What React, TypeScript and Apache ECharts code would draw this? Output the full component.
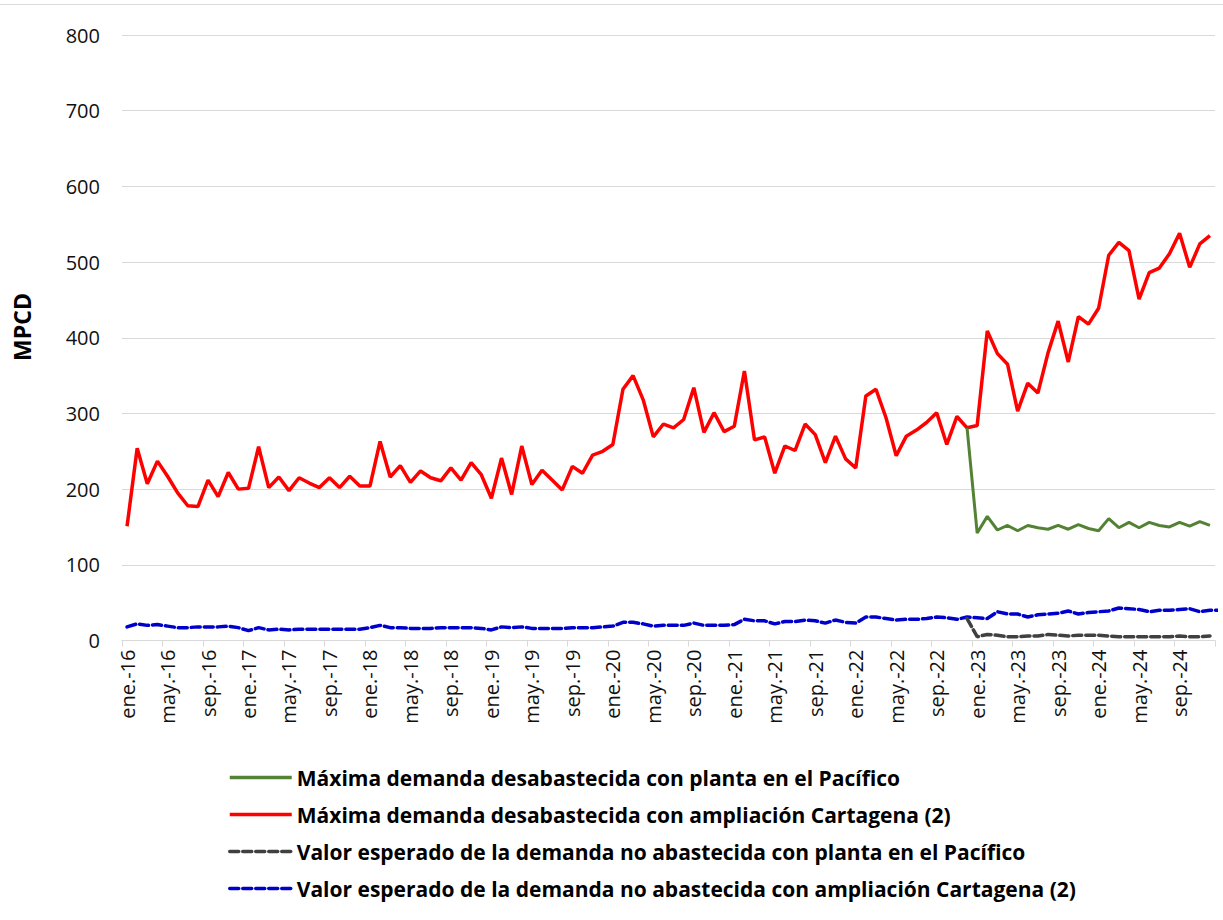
import React, { useEffect, useRef } from "react";
import * as echarts from "echarts";

const MONTHS = ["ene.", "feb.", "mar.", "abr.", "may.", "jun.", "jul.", "ago.", "sep.", "oct.", "nov.", "dic."];
const YEARS = ["16", "17", "18", "19", "20", "21", "22", "23", "24"];
const categories: string[] = [];
YEARS.forEach((y) => MONTHS.forEach((m) => categories.push(`${m}-${y}`)));

const NAME_GREEN = "Máxima demanda desabastecida con planta en el Pacífico";
const NAME_RED = "Máxima demanda desabastecida con ampliación Cartagena (2)";
const NAME_GRAY = "Valor esperado de la demanda no abastecida con planta en el Pacífico";
const NAME_BLUE = "Valor esperado de la demanda no abastecida con ampliación Cartagena (2)";

const redValues = [
  151, 254, 207, 237, 217, 195, 178, 177, 212, 190, 222, 200, 201, 256, 202, 216, 198, 215, 208, 202, 215, 202, 217, 204,
  204, 263, 216, 231, 209, 224, 215, 211, 228, 212, 235, 219,
  188, 241, 193, 257, 206, 225, 212, 199, 230, 221, 245, 250, 259, 332, 350, 318, 269, 286, 281, 292, 334, 275, 301, 276,
  283, 356, 265, 269, 221, 257, 251, 286, 272, 235, 270,
  240, 228, 323, 332, 294, 244, 270, 278, 288, 301, 259, 296, 281, 284, 409, 379, 365, 303, 340, 327, 380, 422, 368, 428,
  418, 439, 509, 526, 515, 451, 486, 492, 511, 538, 493, 524, 535,
];

const greenTail = [281, 142, 164, 146, 152, 145, 152, 149, 147, 152, 147, 153, 148, 145, 161, 149, 156, 149, 156, 152, 150, 156, 151, 157, 152];

const blueValues = [
  18, 22, 20, 21, 19, 17, 17, 18, 18, 18, 19, 17, 13, 17, 14, 15, 14, 15, 15, 15, 15, 15, 15, 15, 17, 20, 17,
  17, 16, 16, 16, 17, 17, 17, 17, 16, 14, 18, 17, 18, 16, 16, 16, 16, 17, 17, 17, 18, 19, 24, 24, 22, 19,
  20, 20, 20, 23, 20, 20, 20, 21, 28, 26, 26, 22, 25, 25, 27, 26, 23, 27, 24, 23, 31, 31, 29, 27, 28, 28, 29, 31, 30, 28, 31, 30, 29,
  38, 35, 35, 31, 34, 35, 36, 39, 35, 37, 38, 39, 43, 42, 41, 38, 40, 40, 41, 42, 38, 40, 40,
];

const grayTail = [29, 5, 8, 7, 5, 5, 6, 6, 8, 7, 6, 7, 7, 7, 6, 5, 5, 5, 5, 5, 5, 6, 5, 5, 6];

const padFront = (tail: number[]) => {
  const out: (number | null)[] = [];
  for (let i = 0; i < categories.length - tail.length; i++) out.push(null);
  return out.concat(tail);
};

const greenValues = padFront(greenTail);
const grayValues = padFront(grayTail);

const FONT = "'Open Sans', 'Noto Sans', sans-serif";

export default function App() {
  const ref = useRef<HTMLDivElement>(null);
  useEffect(() => {
    if (!ref.current) return;
    const chart = echarts.init(ref.current, undefined, { renderer: "svg" });
    chart.setOption({
      animation: false,
      backgroundColor: "#ffffff",
      textStyle: { fontFamily: FONT },
      graphic: [
        {
          type: "line",
          shape: { x1: 0, y1: 4.5, x2: 1223, y2: 4.5 },
          style: { stroke: "#d9d9d9", lineWidth: 1 },
        },
        {
          type: "text",
          x: 22,
          y: 327,
          rotation: Math.PI / 2,
          style: {
            text: "MPCD",
            align: "center",
            verticalAlign: "middle",
            fontFamily: FONT,
            fontSize: 23,
            fontWeight: "bold",
            fill: "#000",
          },
        },
      ],
      grid: { left: 122, right: 8, top: 35, bottom: 279.5, containLabel: false },
      legend: {
        orient: "vertical",
        left: 223,
        top: 762,
        padding: 5,
        itemWidth: 62,
        itemHeight: 21,
        itemGap: 16,
        itemStyle: { opacity: 0 },
        lineStyle: { width: 3.5 },
        data: [NAME_GREEN, NAME_RED, NAME_GRAY, NAME_BLUE],
        textStyle: { fontFamily: FONT, fontSize: 21, fontWeight: "bold", color: "#000" },
      },
      xAxis: {
        type: "category",
        data: categories,
        boundaryGap: true,
        axisLine: { show: true, lineStyle: { color: "#d9d9d9", width: 1 } },
        axisTick: { show: true, interval: 3, length: 6, lineStyle: { color: "#d9d9d9" } },
        axisLabel: {
          interval: 3,
          rotate: 90,
          margin: 9,
          fontSize: 20,
          color: "#111",
          fontFamily: FONT,
        },
        splitLine: { show: false },
      },
      yAxis: {
        type: "value",
        min: 0,
        max: 800,
        interval: 100,
        axisLine: { show: false },
        axisTick: { show: false },
        axisLabel: { fontSize: 20, color: "#111", margin: 22, fontFamily: FONT },
        splitLine: { lineStyle: { color: "#d9d9d9", width: 1 } },
      },
      series: [
        {
          name: NAME_BLUE,
          type: "line",
          data: blueValues,
          symbol: "none",
          lineStyle: { color: "#0000cc", width: 3.5, type: [9, 4], cap: "round" },
          itemStyle: { color: "#0000cc" },
        },
        {
          name: NAME_GRAY,
          type: "line",
          data: grayValues,
          symbol: "none",
          lineStyle: { color: "#404040", width: 3.5, type: [9, 4], cap: "round" },
          itemStyle: { color: "#404040" },
        },
        {
          name: NAME_RED,
          type: "line",
          data: redValues,
          symbol: "none",
          lineStyle: { color: "#ff0000", width: 3.5 },
          itemStyle: { color: "#ff0000" },
        },
        {
          name: NAME_GREEN,
          type: "line",
          data: greenValues,
          symbol: "none",
          lineStyle: { color: "#548235", width: 3 },
          itemStyle: { color: "#548235" },
        },
      ],
    });
    return () => chart.dispose();
  }, []);
  return (
    <div
      ref={ref}
      style={{ position: "fixed", left: 0, top: 0, width: 1223, height: 920, background: "#fff" }}
    />
  );
}
